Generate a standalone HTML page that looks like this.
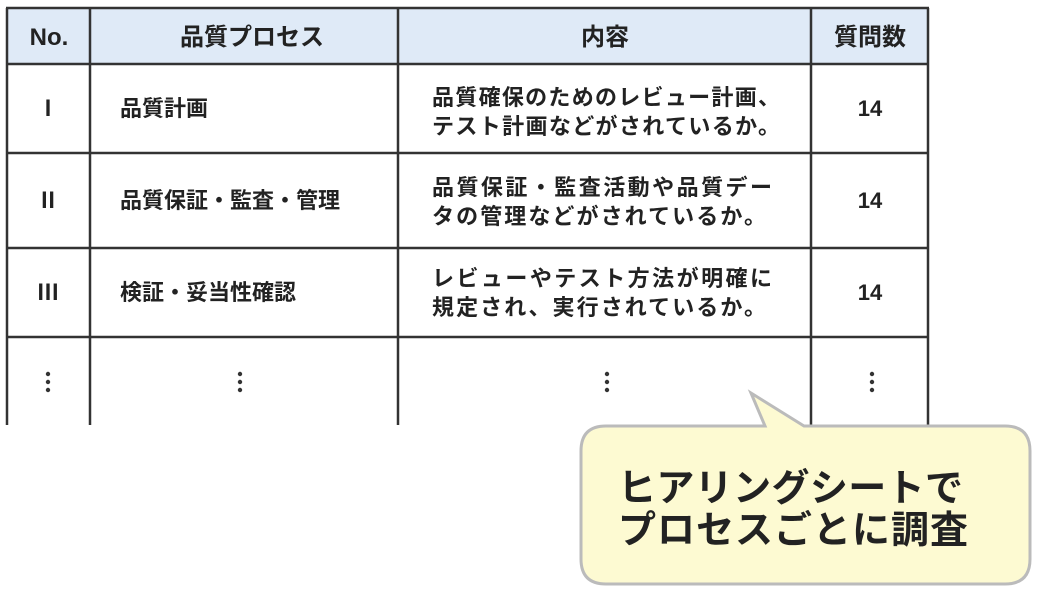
<!DOCTYPE html>
<html><head><meta charset="utf-8"><style>
html,body{margin:0;padding:0;background:#fff;}
svg text{font-family:"Liberation Sans","Noto Sans CJK JP",sans-serif;font-weight:bold;fill:#222;}
</style></head><body>
<svg width="1038" height="597" xmlns="http://www.w3.org/2000/svg">
<rect x="7" y="9" width="921" height="55" fill="#dfeaf7"/>
<g stroke="#333" stroke-width="2.5" fill="none">
<line x1="6" y1="8" x2="929" y2="8"/>
<line x1="6" y1="64" x2="929" y2="64"/>
<line x1="6" y1="153" x2="929" y2="153"/>
<line x1="6" y1="248" x2="929" y2="248"/>
<line x1="6" y1="337" x2="929" y2="337"/>
<line x1="7" y1="8" x2="7" y2="425"/>
<line x1="90" y1="8" x2="90" y2="425"/>
<line x1="398" y1="8" x2="398" y2="425"/>
<line x1="811" y1="8" x2="811" y2="425"/>
<line x1="928" y1="8" x2="928" y2="425"/>
</g>
<g font-size="24" text-anchor="middle">
<text x="49" y="45">No.</text>
<text x="252" y="45">品質プロセス</text>
<text x="605" y="45">内容</text>
<text x="870" y="45">質問数</text>
</g>
<g font-size="22">
<text x="48" y="116" text-anchor="middle" font-family="Liberation Serif">Ⅰ</text>
<text x="48" y="208" text-anchor="middle" font-family="Liberation Serif">Ⅱ</text>
<text x="48" y="300" text-anchor="middle" font-family="Liberation Serif">Ⅲ</text>
<text x="120" y="116">品質計画</text>
<text x="120" y="208">品質保証・監査・管理</text>
<text x="120" y="300">検証・妥当性確認</text>
<text x="432" y="105" textLength="348">品質確保のためのレビュー計画、</text>
<text x="432" y="134" textLength="348">テスト計画などがされているか。</text>
<text x="432" y="195" textLength="340">品質保証・監査活動や品質デー</text>
<text x="432" y="224" textLength="334">タの管理などがされているか。</text>
<text x="432" y="286" textLength="340">レビューやテスト方法が明確に</text>
<text x="432" y="315" textLength="334">規定され、実行されているか。</text>
<text x="870" y="116" text-anchor="middle">14</text>
<text x="870" y="208" text-anchor="middle">14</text>
<text x="870" y="300" text-anchor="middle">14</text>
</g>
<g fill="#333">
<circle cx="48" cy="374" r="2.2"/><circle cx="48" cy="382" r="2.2"/><circle cx="48" cy="390" r="2.2"/>
<circle cx="240" cy="374" r="2.2"/><circle cx="240" cy="382" r="2.2"/><circle cx="240" cy="390" r="2.2"/>
<circle cx="607" cy="374" r="2.2"/><circle cx="607" cy="382" r="2.2"/><circle cx="607" cy="390" r="2.2"/>
<circle cx="872" cy="374" r="2.2"/><circle cx="872" cy="382" r="2.2"/><circle cx="872" cy="390" r="2.2"/>
</g>
<path d="M606,426 L765,426 L751,393 L804,426 L1005,426 Q1030,426 1030,451 L1030,559 Q1030,584 1005,584 L606,584 Q581,584 581,559 L581,451 Q581,426 606,426 Z" fill="#fdfad2" stroke="#bbbbbb" stroke-width="3"/>
<g font-size="38">
<text x="618" y="501" textLength="345">ヒアリングシートで</text>
<text x="618" y="543" textLength="350">プロセスごとに調査</text>
</g>
</svg>
</body></html>
